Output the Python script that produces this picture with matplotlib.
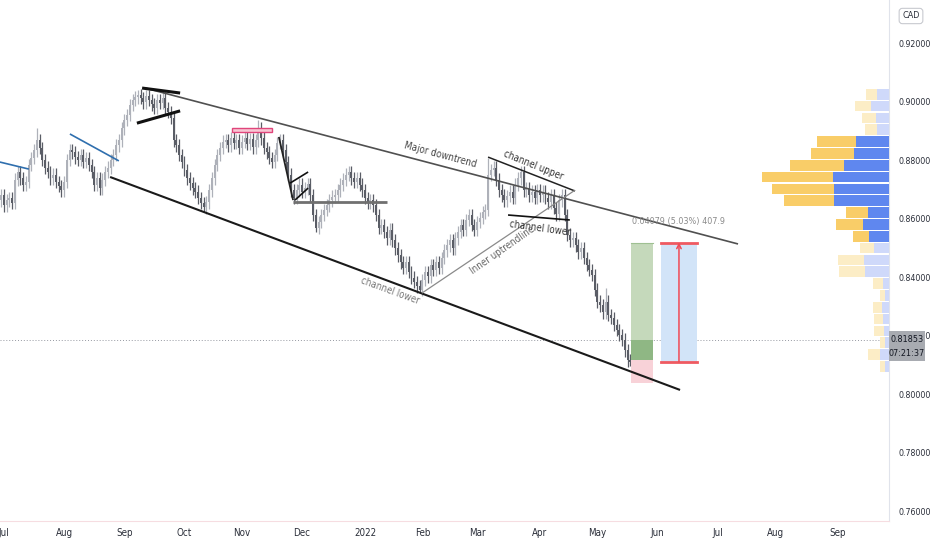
import os
import numpy as np
import pandas as pd
import matplotlib
matplotlib.use("Agg")
import matplotlib.pyplot as plt
from matplotlib import font_manager as fm
from matplotlib.patches import Rectangle

# TradingView uses a narrow font, look for one that is installed
narrow_path = None
cands = []
for f in fm.fontManager.ttflist:
    base = os.path.basename(f.fname).lower()
    if ('narrow' in base or 'condensed' in base) and not any(
            w in base for w in ['bold', 'oblique', 'italic']):
        cands.append(base + '|' + f.fname)
cands.sort(key=lambda s: (0 if 'liberation' in s else 1 if 'dejavusans' in s else 2))
if cands:
    narrow_path = cands[0].split('|', 1)[1]


def fp(size):
    if narrow_path:
        return fm.FontProperties(fname=narrow_path, size=size)
    return fm.FontProperties(family='Roboto', size=size * 0.85)


# daily closes, first bar is index -2 (two days before 2021-07-01)
first_idx = -2
first_open = 0.8650
closes = [
    0.8663, 0.8680, 0.8646, 0.8663, 0.8670, 0.8653, 0.8732, 0.8759, 0.8738, 0.8715,
    0.8725, 0.8783, 0.8807, 0.8834, 0.8868, 0.8841, 0.8800, 0.8773, 0.8759, 0.8738,
    0.8749, 0.8725, 0.8711, 0.8697, 0.8725, 0.8800, 0.8834, 0.8827, 0.8810, 0.8800,
    0.8817, 0.8793, 0.8807, 0.8783, 0.8759, 0.8715, 0.8738, 0.8704, 0.8732, 0.8759,
    0.8773, 0.8800, 0.8817, 0.8851, 0.8868, 0.8909, 0.8937, 0.8954, 0.8988, 0.9005,
    0.9015, 0.9022, 0.9012, 0.8998, 0.9019, 0.9005, 0.8991, 0.8978, 0.9005, 0.8995,
    0.9012, 0.8978, 0.8964, 0.8944, 0.8868, 0.8851, 0.8817, 0.8793, 0.8766, 0.8738,
    0.8721, 0.8704, 0.8691, 0.8670, 0.8653, 0.8639, 0.8656, 0.8697, 0.8738, 0.8783,
    0.8817, 0.8841, 0.8862, 0.8868, 0.8851, 0.8875, 0.8858, 0.8868, 0.8841, 0.8862,
    0.8875, 0.8855, 0.8872, 0.8844, 0.8868, 0.8909, 0.8875, 0.8841, 0.8827, 0.8807,
    0.8793, 0.8817, 0.8858, 0.8868, 0.8834, 0.8793, 0.8749, 0.8697, 0.8670, 0.8697,
    0.8715, 0.8691, 0.8704, 0.8718, 0.8680, 0.8612, 0.8568, 0.8588, 0.8612, 0.8629,
    0.8646, 0.8663, 0.8674, 0.8680, 0.8697, 0.8715, 0.8732, 0.8749, 0.8759, 0.8738,
    0.8725, 0.8738, 0.8715, 0.8697, 0.8670, 0.8656, 0.8663, 0.8646, 0.8612, 0.8568,
    0.8578, 0.8554, 0.8533, 0.8561, 0.8526, 0.8499, 0.8475, 0.8451, 0.8431, 0.8451,
    0.8417, 0.8397, 0.8383, 0.8369, 0.8356, 0.8390, 0.8417, 0.8403, 0.8441, 0.8424,
    0.8451, 0.8431, 0.8465, 0.8492, 0.8509, 0.8526, 0.8499, 0.8533, 0.8554, 0.8578,
    0.8561, 0.8595, 0.8612, 0.8578, 0.8561, 0.8588, 0.8602, 0.8622, 0.8629, 0.8749,
    0.8766, 0.8773, 0.8732, 0.8697, 0.8680, 0.8663, 0.8677, 0.8691, 0.8670, 0.8715,
    0.8738, 0.8759, 0.8697, 0.8704, 0.8680, 0.8691, 0.8670, 0.8697, 0.8680, 0.8691,
    0.8670, 0.8656, 0.8680, 0.8636, 0.8615, 0.8663, 0.8680, 0.8612, 0.8544, 0.8526,
    0.8533, 0.8509, 0.8485, 0.8499, 0.8465, 0.8441, 0.8424, 0.8407, 0.8356, 0.8315,
    0.8304, 0.8280, 0.8315, 0.8270, 0.8260, 0.8236, 0.8219, 0.8202, 0.8185, 0.8150,
    0.8116, 0.8109, 0.8133, 0.8185,
]
# bars with long wicks
spike_hi = {12: 0.8909, 49: 0.9039, 93: 0.8937, 177: 0.8807, 220: 0.8362}
spike_lo = {73: 0.8622, 114: 0.8554, 152: 0.8345, 229: 0.8096}
wick = 0.0022
last_price = 0.81853

month_labels = ['Jul', 'Aug', 'Sep', 'Oct', 'Nov', 'Dec', '2022', 'Feb', 'Mar',
                'Apr', 'May', 'Jun', 'Jul', 'Aug', 'Sep']
price_ticks = [0.76, 0.78, 0.80, 0.82, 0.84, 0.86, 0.88, 0.90, 0.92]

# drawings: (bar0, price0, bar1, price1, color, width)
trend_lines = [
    (51.6, 0.9046, 268.4, 0.8513, '#505050', 1.2),   # major downtrend
    (50.5, 0.9046, 64.4, 0.9029, '#111111', 2.2),
    (48.6, 0.8926, 64.4, 0.8968, '#111111', 2.2),
    (-1.5, 0.8793, 9.1, 0.8769, '#2f6fae', 1.2),
    (24.1, 0.8889, 42.0, 0.8797, '#2f6fae', 1.2),
    (38.8, 0.8742, 247.2, 0.8014, '#1a1a1a', 1.5),   # channel lower
    (100.5, 0.8879, 105.7, 0.8663, '#222222', 1.3),
    (104.6, 0.8721, 111.2, 0.8759, '#111111', 1.2),
    (106.4, 0.8663, 111.2, 0.8704, '#111111', 1.2),
    (105.7, 0.8656, 140.0, 0.8656, '#707070', 2.0),
    (177.0, 0.8810, 208.8, 0.8694, '#222222', 1.1),  # channel upper
    (152.8, 0.8345, 208.8, 0.8697, '#8a8a8a', 0.9),  # inner uptrendline
    (184.3, 0.8612, 206.9, 0.8595, '#111111', 1.2),  # channel lower (small)
]
labels = [
    ('Major downtrend', 159.4, 0.8817, -15, '#444444'),
    ('channel upper', 193.4, 0.8783, -22, '#333333'),
    ('channel lower', 196.0, 0.8568, -8, '#333333'),
    ('Inner uptrendline', 182.4, 0.8492, 35, '#666666'),
    ('channel lower', 141.1, 0.8352, -20, '#777777'),
]

# long position tool
lp_x0, lp_x1 = 229.3, 237.3
lp_target, lp_entry, lp_stop = 0.8516, 0.8116, 0.8038
# price range tool
pr_x0, pr_x1 = 240.2, 253.4
pr_low, pr_high = 0.8110, 0.8518

# volume profile rows from the top (0.9045) down, step 0.004044
vp_total = [23, 34, 27, 24, 72, 78, 99, 127, 117, 105, 43, 53, 36, 29, 51, 50,
            16, 9, 16, 15, 15, 9, 21, 9]
vp_up = [12, 18, 13, 12, 33, 35, 45, 56, 55, 55, 21, 26, 20, 15, 25, 24,
         6, 4, 7, 6, 5, 4, 9, 4]
vp_top = 0.9045
vp_step = 0.004044
value_area = range(4, 13)

fig = plt.figure(figsize=(9.32, 5.5), dpi=100)
ax = fig.add_axes([0, 29 / 550, 889 / 932, 521 / 550])
ax.set_xlim(-1.46, 323.6)
ax.set_ylim(0.7566, 0.9347)

up_col = '#aeb1b9'
dn_col = '#5a5d66'
opens = [first_open] + closes[:-1]
for k, (o, c) in enumerate(zip(opens, closes)):
    i = first_idx + k
    hi = spike_hi.get(i, max(o, c) + wick)
    lo = spike_lo.get(i, min(o, c) - wick)
    col = up_col if c >= o else dn_col
    ax.vlines(i, lo, hi, color=col, lw=0.9, zorder=2)
    ax.add_patch(Rectangle((i - 0.36, min(o, c)), 0.72, max(abs(c - o), 0.0003),
                           color=col, lw=0, zorder=2))

for x0, p0, x1, p1, col, lw in trend_lines:
    ax.plot([x0, x1], [p0, p1], color=col, lw=lw, solid_capstyle='butt', zorder=4)

ax.add_patch(Rectangle((83.4, 0.8897), 98.0 - 83.4, 0.0012, fc='#f7c6d3',
                       ec='#e0457b', lw=1.0, zorder=4))

for txt, x, p, rot, col in labels:
    ax.text(x, p, txt, rotation=rot, ha='center', va='center', fontproperties=fp(7),
            color=col, rotation_mode='anchor', zorder=5)

# long position
ax.add_patch(Rectangle((lp_x0, lp_entry), lp_x1 - lp_x0, lp_target - lp_entry,
                       fc='#c5d9bb', lw=0, zorder=3))
ax.plot([lp_x0, lp_x1], [lp_target, lp_target], color='#9fc092', lw=0.8, zorder=3)
ax.add_patch(Rectangle((lp_x0, lp_entry), lp_x1 - lp_x0, last_price - lp_entry,
                       fc='#8fb784', lw=0, zorder=3))
ax.add_patch(Rectangle((lp_x0, lp_stop), lp_x1 - lp_x0, lp_entry - lp_stop,
                       fc='#f8d2d8', lw=0, zorder=3))

# price range
ax.add_patch(Rectangle((pr_x0, pr_low), pr_x1 - pr_x0, pr_high - pr_low,
                       fc='#d2e4f8', lw=0, zorder=3))
ax.plot([pr_x0, pr_x1], [pr_high, pr_high], color='#ef5a61', lw=2, zorder=4)
ax.plot([pr_x0, pr_x1], [pr_low, pr_low], color='#ef5a61', lw=2, zorder=4)
xm = (pr_x0 + pr_x1) / 2
ax.annotate('', xy=(xm, pr_high), xytext=(xm, pr_low),
            arrowprops=dict(arrowstyle='->', color='#f04a55', lw=1.1,
                            shrinkA=0, shrinkB=0, mutation_scale=8), zorder=4)
ax.text(xm, 0.8590, '%.5f (%.2f%%) %.1f' % (0.04079, 5.03, 407.9), ha='center',
        va='center', fontproperties=fp(6.5), color='#8a8a8a', zorder=5)

ax.axhline(last_price, color='#9598a1', lw=0.7, ls=(0, (1, 2)), zorder=1)

# axes look
days = pd.bdate_range('2021-07-01', '2022-09-30')
month_pos = [i for i in range(len(days)) if i == 0 or days[i].month != days[i - 1].month]
ax.set_xticks(month_pos[:len(month_labels)])
ax.set_xticklabels(month_labels)
ax.set_yticks(price_ticks)
ax.set_yticklabels(['%.5f' % p for p in price_ticks])
ax.yaxis.tick_right()
ax.tick_params(axis='y', length=0, pad=7, labelcolor='#2a2e39')
ax.tick_params(axis='x', length=0, pad=5, labelcolor='#2a2e39')
for lab in ax.get_yticklabels():
    lab.set_fontproperties(fp(6.3))
for lab in ax.get_xticklabels():
    lab.set_fontproperties(fp(7))
for s in ['top', 'left']:
    ax.spines[s].set_visible(False)
ax.spines['right'].set_color('#e0e3eb')
ax.spines['bottom'].set_color('#f6dde1')

# volume profile on a twin axis measured in pixels from the right edge
ax2 = ax.twiny()
ax2.set_xlim(889, 0)
ax2.set_ylim(ax.get_ylim())
for k in range(len(vp_total)):
    yc = vp_top - (k + 0.5) * vp_step
    if k in value_area:
        bcol, ycol = '#5f87ef', '#f9cd68'
    else:
        bcol, ycol = '#cfd9fa', '#fcedc6'
    ax2.barh(yc, vp_up[k], height=vp_step * 0.9, left=0, color=bcol, lw=0)
    ax2.barh(yc, vp_total[k] - vp_up[k], height=vp_step * 0.9, left=vp_up[k],
             color=ycol, lw=0)
ax2.set_xticks([])
for s in ax2.spines.values():
    s.set_visible(False)

# last price label (on top of the profile and the tick labels) and currency box
ax2.add_patch(Rectangle((889 / 932, 1 - 361 / 550), 36 / 932, 30 / 550,
                        transform=fig.transFigure, fc='#a8abb1', lw=0,
                        clip_on=False, zorder=10))
ax2.text(907 / 932, 1 - 339 / 550, '%.5f' % last_price, ha='center', va='center',
         fontproperties=fp(6.5), color='#131722', transform=fig.transFigure,
         zorder=11)
ax2.text(907 / 932, 1 - 353 / 550, '07:21:37', ha='center', va='center',
         fontproperties=fp(6.5), color='#131722', transform=fig.transFigure,
         zorder=11)
fig.text(911 / 932, 1 - 16 / 550, 'CAD', ha='center', va='center',
         fontproperties=fp(6.5), color='#2a2e39',
         bbox=dict(boxstyle='round,pad=0.35', fc='white', ec='#c8cad0', lw=0.8))

fig.savefig('out.png', dpi=100)
